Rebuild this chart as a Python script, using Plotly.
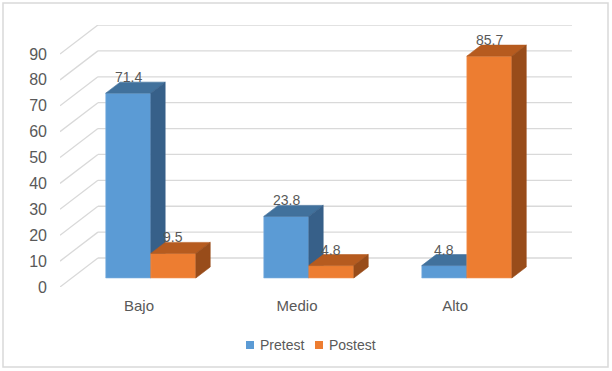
import plotly.graph_objects as go

# ---- data ----
categories = ["Bajo", "Medio", "Alto"]
series_names = ["Pretest", "Postest"]
pretest = [71.4, 23.8, 4.8]
postest = [9.5, 4.8, 85.7]
y_ticks = [0, 10, 20, 30, 40, 50, 60, 70, 80, 90]

# ---- styling / 3D geometry ----
front_colors = ["#5B9BD5", "#ED7D31"]
top_colors = ["#41719C", "#B65B1F"]
side_colors = ["#376089", "#984C1A"]
edge_colors = ["#7FB1E0", "#F2995D"]
grid_color = "#D9D9D9"
text_color = "#595959"
FONT = "Liberation Sans"

DX = 0.24      # depth offset in x (category units)
DY = 11.2      # depth offset in y (value units)
BW = 0.285     # bar width (category units)
F0, F1 = 0.31, 0.69  # bar front/back depth fractions
YMAX = 101.2

# plot-area pixel frame (for paper-coordinate helpers)
L, R, T, B, W, H = 60, 40, 25, 84, 612, 371
PW, PH = W - L - R, H - T - B


def px_x(p):
    return (p - L) / PW


def px_y(p):
    return (H - B - p) / PH


values = [pretest, postest]
fig = go.Figure()

# gridlines: side-wall diagonals + back-wall horizontals
gx, gy = [], []
x_left, x_right = -0.5, len(categories) - 0.5
for v in y_ticks:
    gx += [x_left, x_left + DX, None, x_left + DX, x_right + DX, None]
    gy += [v, v + DY, None, v + DY, v + DY, None]
fig.add_trace(go.Scatter(x=gx, y=gy, mode="lines", line=dict(color=grid_color, width=1.3),
                         hoverinfo="skip", showlegend=False))

ddx = (F1 - F0) * DX
ddy = (F1 - F0) * DY
annotations = []
for i, cat in enumerate(categories):
    for s, name in enumerate(series_names):
        v = values[s][i]
        xl = i + F0 * DX + (s - 1) * BW
        xr = xl + BW
        y0 = F0 * DY
        y1 = v + F0 * DY
        polys = [
            ([xl, xr, xr, xl, xl], [y0, y0, y1, y1, y0], front_colors[s]),
            ([xl, xr, xr + ddx, xl + ddx, xl], [y1, y1, y1 + ddy, y1 + ddy, y1], top_colors[s]),
            ([xr, xr + ddx, xr + ddx, xr, xr], [y0, y0 + ddy, y1 + ddy, y1, y0], side_colors[s]),
        ]
        for k, (px, py, col) in enumerate(polys):
            fig.add_trace(go.Scatter(
                x=px, y=py, mode="lines", fill="toself", fillcolor=col, name=name,
                line=dict(color=edge_colors[s] if k == 0 else col, width=0.6),
                hoverinfo="skip", showlegend=False))
        annotations.append(dict(
            x=(xl + xr) / 2, y=v + F1 * DY, xref="x", yref="y",
            text=f"{v:.1f}", showarrow=False, yshift=5,
            font=dict(family=FONT, size=14, color=text_color)))

# legend (squares + labels), Excel-style compact spacing
shapes = [dict(type="rect", xref="paper", yref="paper",
               x0=px_x(3), x1=px_x(608), y0=px_y(367), y1=px_y(3),
               line=dict(color="#D9D9D9", width=1.5))]
legend_starts = [246, 315]
for s, name in enumerate(series_names):
    x0 = legend_starts[s]
    shapes.append(dict(type="rect", xref="paper", yref="paper",
                       x0=px_x(x0), x1=px_x(x0 + 8), y0=px_y(349), y1=px_y(341),
                       fillcolor=front_colors[s], line=dict(width=0)))
    annotations.append(dict(x=px_x(x0 + 12), y=px_y(345), xref="paper", yref="paper",
                            xanchor="left", yanchor="middle", text=name, showarrow=False,
                            font=dict(family=FONT, size=14, color=text_color)))

fig.update_layout(
    width=W, height=H,
    margin=dict(l=L, r=R, t=T, b=B),
    paper_bgcolor="white", plot_bgcolor="white",
    font=dict(family=FONT, color=text_color),
    xaxis=dict(range=[x_left, x_right + DX], showgrid=False, zeroline=False, showline=False,
               tickmode="array", tickvals=list(range(len(categories))), ticktext=categories,
               ticks="", ticklabelstandoff=8, tickfont=dict(size=15, color=text_color),
               fixedrange=True),
    yaxis=dict(range=[0, YMAX], showgrid=False, zeroline=False, showline=False,
               tickmode="array", tickvals=y_ticks, ticks="", ticklabelstandoff=12,
               tickfont=dict(size=16, color=text_color), fixedrange=True),
    annotations=annotations,
    shapes=shapes,
    showlegend=False,
)

fig.write_html("out.html", config={"displayModeBar": False},
               post_script="document.body.style.margin='0';")
